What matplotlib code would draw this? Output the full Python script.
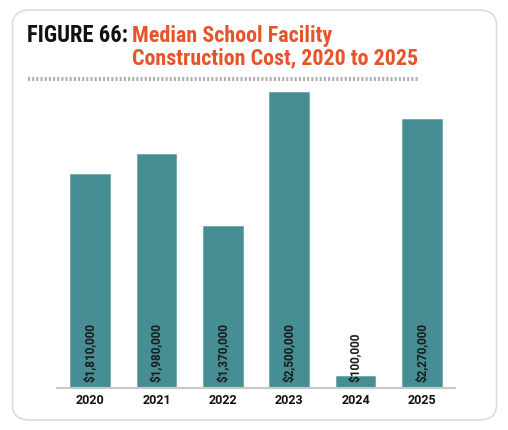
import matplotlib
matplotlib.use("Agg")
import matplotlib.pyplot as plt
from matplotlib.patches import FancyBboxPatch
from matplotlib.lines import Line2D

years = ["2020", "2021", "2022", "2023", "2024", "2025"]
costs = [1810000, 1980000, 1370000, 2500000, 100000, 2270000]
cost_labels = ["$1,810,000", "$1,980,000", "$1,370,000", "$2,500,000", "$100,000", "$2,270,000"]

W, H = 508, 430
fig = plt.figure(figsize=(W / 100, H / 100), dpi=100)
fig.patch.set_facecolor("white")

narrow = ["Roboto Condensed", "Liberation Sans Narrow", "Roboto", "DejaVu Sans"]
plain = ["Roboto", "DejaVu Sans"]

# rounded card border, kept behind the axes
card = FancyBboxPatch((12.5 / W, 1 - 420 / H), 484 / W, 410 / H,
                      boxstyle="round,pad=0,rounding_size=0.035",
                      transform=fig.transFigure, facecolor="white",
                      edgecolor="#dcdcdc", linewidth=1.2, zorder=-5)
fig.add_artist(card)

# title
fig.text(27 / W, 1 - 36 / H, "FIGURE 66:", fontsize=16.3, fontweight="bold",
         color="#111111", ha="left", va="center", family=narrow)
fig.text(132 / W, 1 - 36 / H, "Median School Facility", fontsize=15.8, fontweight="bold",
         color="#e8542a", ha="left", va="center", family=narrow)
fig.text(132 / W, 1 - 58 / H, "Construction Cost, 2020 to 2025", fontsize=15.8, fontweight="bold",
         color="#e8542a", ha="left", va="center", family=narrow)

# hatched rule under title
fig.add_artist(Line2D([28 / W, 418 / W], [1 - 79 / H, 1 - 79 / H], transform=fig.transFigure,
                      color="#b0b0b0", linewidth=3, dashes=(0.5, 0.5), solid_capstyle="butt"))

# bars
top_px, base_px = 86, 388
ax = fig.add_axes([57 / W, 1 - base_px / H, 398 / W, (base_px - top_px) / H])
ax.set_zorder(2)
x = range(len(years))
ax.bar(x, costs, width=0.6, color="#468e93", edgecolor="#6fa8ac", linewidth=0.6)
ax.set_xlim(-0.5, 5.5)
ax.set_ylim(0, 2.5e6 * (base_px - top_px) / 296)

for i, lab in enumerate(cost_labels):
    ax.annotate(lab, (i, 0), xytext=(0, 4.5), textcoords="offset points",
                rotation=90, ha="center", va="bottom", fontsize=8.5,
                fontweight="bold", color="#1a1a1a", family=plain)

ax.set_xticks(list(x))
ax.set_xticklabels(years, fontsize=9, fontweight="bold", color="#111111", family=plain)
ax.tick_params(axis="x", length=0, pad=4)
ax.set_yticks([])
for s in ["top", "right", "left"]:
    ax.spines[s].set_visible(False)
ax.spines["bottom"].set_color("#c8c8c8")
ax.spines["bottom"].set_linewidth(1.5)
ax.patch.set_alpha(0)

fig.savefig("out.png", dpi=100, facecolor="white")
